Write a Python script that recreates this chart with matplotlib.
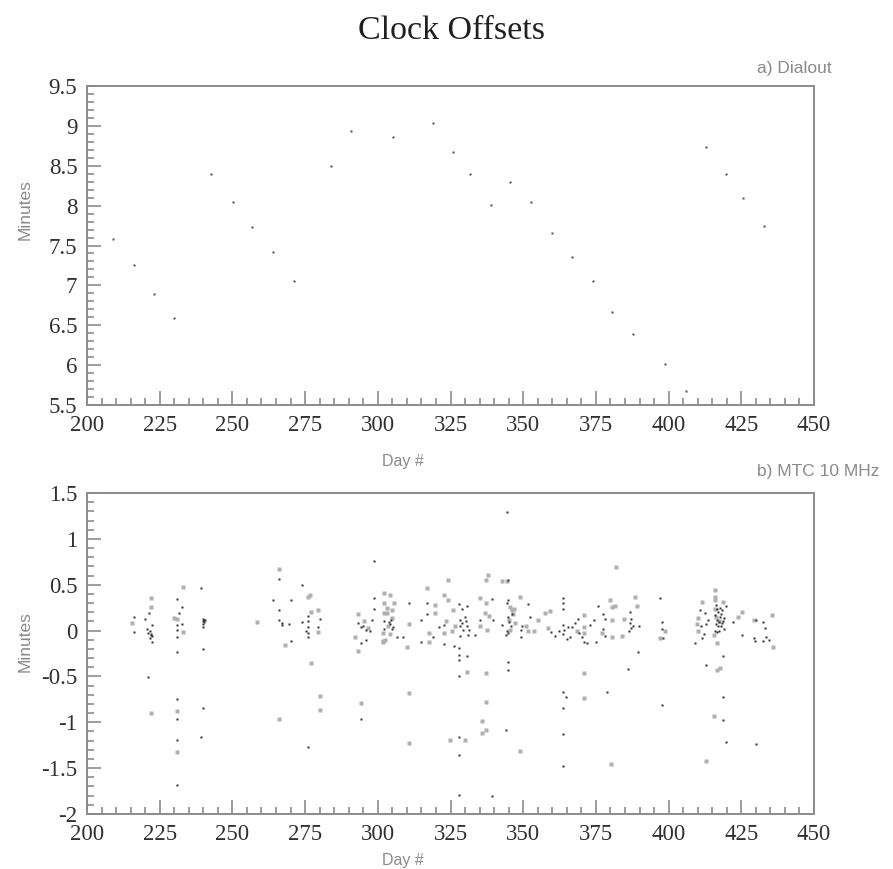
import matplotlib
matplotlib.use('Agg')
import matplotlib.pyplot as plt
from matplotlib.ticker import MultipleLocator

# a) Dialout : one reading per week
dial_day = [208.8, 216.2, 223.2, 229.9, 242.7, 250.1, 256.8, 263.9, 271.1, 284.0,
            290.8, 305.1, 318.9, 326.0, 331.7, 339.0, 345.5, 352.8, 359.9, 366.7,
            374.0, 380.6, 387.8, 398.8, 406.0, 412.8, 419.9, 425.7, 432.7]
dial_min = [7.58, 7.25, 6.89, 6.59, 8.40, 8.04, 7.73, 7.42, 7.06, 8.50,
            8.94, 8.86, 9.04, 8.67, 8.40, 8.01, 8.30, 8.04, 7.66, 7.36,
            7.05, 6.66, 6.39, 6.02, 5.67, 8.73, 8.40, 8.10, 7.75]

# b) MTC 10 MHz : dark points
mtc_day_dark = [216.2, 216.2, 219.8, 220.5, 221.1, 221.9, 222.3, 221.3, 222.3, 222.3, 220.9,
                221.6, 222.0, 221.8,
                230.8, 230.8, 230.8, 230.8, 230.8, 231.7, 232.5, 232.5, 230.8, 230.8, 230.8, 230.8,
                239.1, 240.0, 240.0, 240.0, 240.3, 240.0, 240.0, 240.0, 239.1, 240.2, 240.5,
                266.0, 263.9, 270.2, 274.0, 266.0, 266.0, 266.9, 267.2, 269.6, 270.2,
                274.0, 275.9, 275.9, 275.9, 275.2, 275.9, 275.9, 275.9, 280.2, 279.6,
                293.1, 294.3, 295.0, 295.8, 294.3, 295.9, 297.3, 297.9, 298.8, 298.8, 298.8, 294.3,
                302.0, 302.0, 304.3, 305.3, 306.5, 308.8, 310.8, 303.8, 304.6, 305.0,
                315.0, 315.0, 317.0, 317.0, 319.1, 321.2, 322.6, 322.6, 326.2,
                328.0, 330.8, 328.8, 328.3, 330.3, 328.3, 330.8, 329.4, 331.2, 328.3, 331.0,
                328.0, 328.0, 328.0, 330.8, 328.0, 328.0, 328.0, 328.0, 329.0, 330.0,
                333.4, 335.1, 339.2, 339.7, 339.2,
                342.6, 344.3, 344.5, 344.2, 344.1, 344.3, 344.7, 344.7, 344.7, 344.7, 345.9,
                349.7, 349.3, 351.7, 352.3, 349.4, 344.7, 344.7, 345.2, 346.0,
                359.7, 361.1, 362.2, 363.8, 363.8, 363.8, 363.8, 364.2, 363.8, 364.9, 365.5,
                366.7, 367.8, 366.0, 369.0, 371.0, 371.8, 369.1, 370.2, 363.8, 364.8, 363.8,
                363.8, 363.8,
                373.0, 374.5, 375.2, 375.6, 377.5, 378.2, 377.5, 378.2, 378.7,
                386.7, 386.7, 387.0, 386.4, 385.9, 387.7, 389.9, 389.6, 387.2,
                397.0, 397.8, 397.8, 398.0, 397.8,
                409.1, 410.8, 411.3, 411.6, 412.1, 412.8, 413.6, 412.6, 412.9,
                416.3, 416.7, 416.0, 416.7, 416.3, 416.9, 416.1, 417.4, 418.0, 418.6, 419.1,
                419.7, 419.1, 417.0, 417.8, 418.2, 418.8, 418.8, 418.8, 419.7,
                417.2, 418.4, 417.6, 416.6, 418.0,
                422.1, 425.2, 429.5, 429.9, 430.1, 432.6, 429.7, 432.6, 433.4, 434.6, 433.1]
mtc_min_dark = [0.15, -0.02, 0.13, 0.02, -0.03, -0.05, -0.06, 0.19, 0.06, -0.12, -0.51,
                -0.08, -0.04, 0.00,
                0.34, 0.06, 0.01, -0.07, -0.23, 0.19, 0.26, 0.07, -0.75, -0.96, -1.19, -1.68,
                0.46, 0.13, 0.10, 0.07, 0.11, 0.04, -0.20, -0.84, -1.16, 0.09, 0.12,
                0.56, 0.33, 0.33, 0.50, 0.22, 0.12, 0.06, 0.08, 0.07, -0.11,
                0.09, 0.16, 0.10, 0.04, -0.01, -0.03, -0.07, -1.27, 0.13, 0.04,
                0.08, 0.04, 0.05, 0.01, -0.14, -0.10, -0.01, 0.12, 0.76, 0.36, 0.24, -0.96,
                0.10, 0.02, 0.07, 0.04, -0.07, -0.07, 0.30, 0.09, 0.11, 0.02,
                0.12, -0.13, 0.30, 0.18, -0.07, 0.04, 0.06, -0.15, -0.17,
                0.29, 0.27, 0.24, 0.12, 0.10, 0.05, 0.05, 0.01, 0.01, -0.06, -0.05,
                -0.19, -0.27, -0.32, -0.28, -0.49, -1.16, -1.36, -1.79, 0.08, 0.15,
                -0.05, 0.12, 0.34, 0.12, -1.80,
                0.06, 0.30, -0.01, -0.05, -1.08, 1.29, 0.55, 0.33, 0.15, -0.03, 0.05,
                0.05, 0.01, 0.29, 0.15, -0.07, -0.34, -0.43, 0.09, 0.18,
                -0.02, -0.06, -0.01, 0.35, 0.30, 0.24, 0.06, 0.01, -0.04, -0.09, 0.04,
                0.04, 0.08, -0.07, 0.13, -0.12, -0.14, -0.03, -0.07, -0.67, -0.72, -0.84,
                -1.13, -1.48,
                0.06, 0.12, -0.12, 0.27, 0.02, 0.13, 0.18, -0.06, -0.67,
                0.20, 0.08, 0.03, 0.00, -0.42, 0.05, 0.05, -0.23, 0.13,
                0.35, 0.09, 0.02, -0.08, -0.81,
                -0.14, 0.22, 0.05, -0.08, -0.04, 0.07, 0.12, 0.19, -0.38,
                0.28, 0.23, 0.17, 0.12, 0.07, 0.05, 0.00, 0.00, 0.05, 0.10, 0.14,
                0.27, 0.02, 0.20, 0.15, 0.22, -0.28, -0.72, -0.98, -1.21,
                0.09, 0.08, 0.25, -0.02, 0.18,
                0.09, -0.05, -0.08, -1.24, 0.12, 0.09, -0.11, -0.11, -0.07, -0.10, 0.03]

# b) MTC 10 MHz : light points
mtc_day_light = [215.4, 221.9, 221.9, 222.0, 230.8, 232.9, 232.9, 229.8, 230.8, 230.8, 258.3,
                 266.0, 268.1, 266.0, 275.9, 276.6, 277.1, 279.6, 279.6, 277.2, 280.2, 280.2,
                 293.1, 292.1, 293.1, 301.8, 294.3, 296.5, 295.2,
                 302.0, 304.3, 302.0, 305.6, 302.0, 303.0, 301.9, 304.3, 302.5, 301.9, 303.5,
                 304.8, 309.9, 310.8, 310.8, 310.8, 303.2, 305.0,
                 317.0, 317.7, 317.7, 319.8, 319.8, 322.6, 322.8, 324.2, 325.7, 324.2, 325.4,
                 324.8, 330.6, 330.0, 323.5, 326.5,
                 335.1, 335.1, 337.0, 337.6, 337.2, 338.0, 337.2, 338.2, 337.2, 337.2, 335.7,
                 337.2, 335.7,
                 342.6, 344.3, 345.5, 346.0, 346.8, 345.2, 345.5, 348.9, 350.8, 351.7, 353.8,
                 355.0, 348.9, 346.4, 347.3,
                 357.5, 359.1, 358.4, 371.0, 371.0, 371.0, 368.6, 371.0, 371.0,
                 377.0, 380.0, 380.4, 381.7, 380.6, 380.4, 380.2, 381.8, 383.9, 384.5, 388.4,
                 389.2, 397.0, 398.8,
                 410.2, 409.6, 410.2, 411.6, 412.9, 415.9, 415.9, 415.5, 416.5, 417.6, 416.5,
                 415.5, 418.6, 416.0, 417.2, 415.8, 416.4,
                 424.0, 425.2, 429.2, 435.4, 435.8]
mtc_min_light = [0.08, 0.35, 0.26, -0.90, 0.13, 0.47, -0.02, 0.14, -0.88, -1.32, 0.09,
                 0.67, -0.16, -0.96, 0.37, 0.39, -0.35, 0.22, -0.02, 0.20, -0.71, -0.87,
                 0.18, -0.07, -0.22, -0.11, -0.79, 0.03, 0.10,
                 0.41, 0.39, 0.30, 0.30, 0.19, 0.19, -0.03, -0.04, -0.10, -0.13, 0.05,
                 0.14, -0.18, 0.07, -0.68, -1.23, 0.25, 0.22,
                 0.46, -0.03, -0.13, 0.28, 0.19, -0.03, 0.39, 0.33, 0.22, 0.55, -0.01,
                 -1.19, -0.45, -1.19, 0.10, 0.05,
                 0.05, 0.35, 0.19, 0.01, 0.55, 0.61, 0.30, 0.16, -0.46, -0.78, -0.99,
                 -1.08, -1.12,
                 0.54, 0.54, 0.26, 0.22, 0.23, 0.12, 0.01, 0.37, 0.05, 0.00, 0.00,
                 0.12, -1.31, 0.18, 0.08,
                 0.19, 0.21, 0.03, 0.17, 0.04, -0.03, -0.01, -0.46, -0.74,
                 -0.03, 0.33, 0.26, 0.27, 0.12, -0.07, -1.46, 0.69, -0.06, 0.13, 0.37,
                 0.27, -0.08, -0.01,
                 0.14, 0.07, -0.01, 0.31, -1.42, 0.44, 0.37, -0.05, -0.14, -0.41, -0.43,
                 -0.93, 0.31, 0.33, 0.10, 0.24, 0.15,
                 0.15, 0.20, 0.12, 0.17, -0.18]

frame_col = '#8c8c8c'
label_col = '#8a8a8a'
serif = 'Liberation Serif'

fig = plt.figure(figsize=(8.93, 8.69), dpi=100)
W, H = 893.0, 869.0


def style_axes(ax, ymin, ymax):
    ax.set_xlim(200, 450)
    ax.set_ylim(ymin, ymax)
    ax.xaxis.set_major_locator(MultipleLocator(25))
    ax.xaxis.set_minor_locator(MultipleLocator(5))
    ax.yaxis.set_major_locator(MultipleLocator(0.5))
    ax.yaxis.set_minor_locator(MultipleLocator(0.1))
    ax.tick_params(which='both', direction='in', color=frame_col, width=1.2,
                   top=False, right=False)
    ax.tick_params(which='major', length=10, labelsize=16.5, labelcolor='#303030', pad=7)
    ax.tick_params(which='minor', length=5)
    for sp in ax.spines.values():
        sp.set_color(frame_col)
        sp.set_linewidth(1.4)
    ax.yaxis.set_major_formatter(plt.FuncFormatter(lambda v, p: ('%g' % v)))


ax1 = fig.add_axes([87 / W, 1 - 405 / H, 727 / W, 319 / H])
ax1.plot(dial_day, dial_min, 's', ms=1.8, color='#505050', mec='none')
style_axes(ax1, 5.5, 9.5)

ax2 = fig.add_axes([87 / W, 1 - 814 / H, 727 / W, 321 / H])
ax2.plot(mtc_day_light, mtc_min_light, 's', ms=2.2, color='#b0b0b0', mec='none')
ax2.plot(mtc_day_dark, mtc_min_dark, 's', ms=2.0, color='#303030', mec='none')
style_axes(ax2, -2, 1.5)

for ax in (ax1, ax2):
    for lab in ax.get_xticklabels() + ax.get_yticklabels():
        lab.set_family(serif)

sans = 'Liberation Sans'
fig.text(451 / W, 1 - 31 / H, 'Clock Offsets', ha='center', va='center',
         family=serif, fontsize=24.5, color='#202020')
fig.text(757 / W, 1 - 68 / H, 'a) Dialout', ha='left', va='center',
         family=sans, fontsize=12.5, color=label_col)
fig.text(757 / W, 1 - 472 / H, 'b) MTC 10 MHz', ha='left', va='center',
         family=sans, fontsize=12.5, color=label_col)
fig.text(403 / W, 1 - 462 / H, 'Day #', ha='center', va='center',
         family=sans, fontsize=11.5, color=label_col)
fig.text(403 / W, 1 - 861 / H, 'Day #', ha='center', va='center',
         family=sans, fontsize=11.5, color=label_col)
fig.text(25 / W, 1 - 210 / H, 'Minutes', ha='center', va='center', rotation=90,
         family=sans, fontsize=12.5, color=label_col)
fig.text(25 / W, 1 - 642 / H, 'Minutes', ha='center', va='center', rotation=90,
         family=sans, fontsize=12.5, color=label_col)

fig.savefig('out.png', dpi=100)
